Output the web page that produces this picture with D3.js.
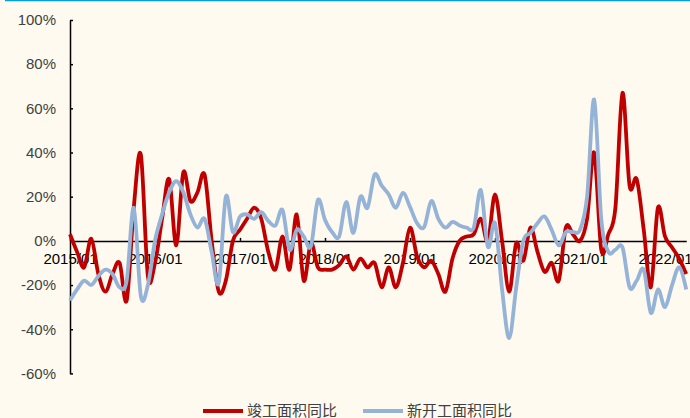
<!DOCTYPE html>
<html lang="zh">
<head>
<meta charset="UTF-8">
<script src="https://d3js.org/d3.v7.min.js"></script>
<style>
  body { margin: 0; background: #fffaf0; }
  svg { display: block; }
  .ylab text { fill: #404040; font: 15px "Liberation Sans", Arial, sans-serif; }
  .xlab text { fill: #000; font: 15px "Liberation Sans", Arial, sans-serif; }
  .legend text { fill: #404040; font: 15px "Noto Sans CJK SC", sans-serif; }
</style>
</head>
<body>
<div id="chart"></div>
<script>
// 月度数据 2015/01 - 2022/04
const yearLabels = ["2015/01","2016/01","2017/01","2018/01","2019/01","2020/01","2021/01","2022/01"];
const yTicks = [-60,-40,-20,0,20,40,60,80,100];
const seriesNames = ["竣工面积同比","新开工面积同比"];

const jungong = [
  3,-5,-12,1,-15,-23,-15,-10,-27,15,39,-16,
  -10,10,28,-2,31,18,22,30,0,-23,-18,0,
  5,10,15,10,-5,-13,2,-13,12,-18,-1,-12,
  -13,-13,-11,-7,-13,-8,-12,-10,-21,-12,-21,-10,
  6,-7,-12,-9,-15,-23,-8,0,2,3,10,0,
  21,0,-23,-1,-9,6,-5,-14,-10,-18,6,3,
  0,10,40,-4,3,15,67,25,28,5,-21,15,
  2,-3,-8,-15
];
const xinkaigong = [
  -27,-22,-18,-20,-16,-13,-15,-21,-18,15,-25,-20,
  0,12,22,27,22,12,6,10,-5,-19,20,4,
  11,12,10,13,9,7,14,-4,5,2,-2.5,18.5,
  9.5,4,2,17.6,3.6,20,15,30,25,21,15,21.7,
  15.4,8,6.3,18,10,6,8.6,7,6,6,23,-2.7,
  8,-22,-44,-21,0,3.6,8,11,5,-2,4,4,
  5,20,64,10,-5,-4,-3,-21,-18,-13,-32.6,-22,
  -30,-20,-12,-22
];

const W = 690, H = 418;
const svg = d3.select("#chart").append("svg").attr("width", W).attr("height", H);

svg.append("line").attr("x1", 5).attr("x2", W).attr("y1", 0.5).attr("y2", 0.5)
   .attr("stroke", "#00a0e9").attr("stroke-width", 1.5);

const x = d3.scaleLinear().domain([0, 87]).range([70, 70 + 87 * 85 / 12]);
const y = d3.scaleLinear().domain([-60, 100]).range([373.4, 20]);

// y轴
const yAxis = svg.append("g").attr("class", "ylab").attr("transform", "translate(70,0)")
  .call(d3.axisLeft(y).tickValues(yTicks).tickFormat(d => d + "%")
        .tickSizeInner(-3).tickSizeOuter(0).tickPadding(14));
yAxis.select(".domain").attr("stroke", "#000").attr("stroke-width", 1.5);
yAxis.selectAll(".tick line").attr("stroke", "#000").attr("stroke-width", 1.5);

// x轴 (0线)
const xAxis = svg.append("g").attr("class", "xlab").attr("transform", "translate(0," + y(0) + ")")
  .call(d3.axisBottom(x).tickValues(yearLabels.map((d, i) => i * 12))
        .tickFormat((d, i) => yearLabels[i]).tickSizeInner(-3).tickSizeOuter(0).tickPadding(12));
xAxis.select(".domain").attr("stroke", "#000").attr("stroke-width", 1.5);
xAxis.selectAll(".tick line").attr("stroke", "#000").attr("stroke-width", 1.5);

const line = d3.line().x((d, i) => x(i)).y(d => y(d)).curve(d3.curveCatmullRom.alpha(0));

const colors = ["#c00000", "#95b3d7"];
[jungong, xinkaigong].forEach((s, k) => {
  svg.append("path").datum(s).attr("d", line).attr("fill", "none")
     .attr("stroke", colors[k]).attr("stroke-width", 3.8).attr("stroke-linejoin", "round");
});

// 图例
const legend = svg.append("g").attr("class", "legend");
[[203, 0], [363, 1]].forEach(([lx, k]) => {
  legend.append("line").attr("x1", lx).attr("x2", lx + 40).attr("y1", 411).attr("y2", 411)
        .attr("stroke", colors[k]).attr("stroke-width", 3.8);
  legend.append("text").attr("x", lx + 44).attr("y", 416).text(seriesNames[k]);
});
</script>
</body>
</html>
